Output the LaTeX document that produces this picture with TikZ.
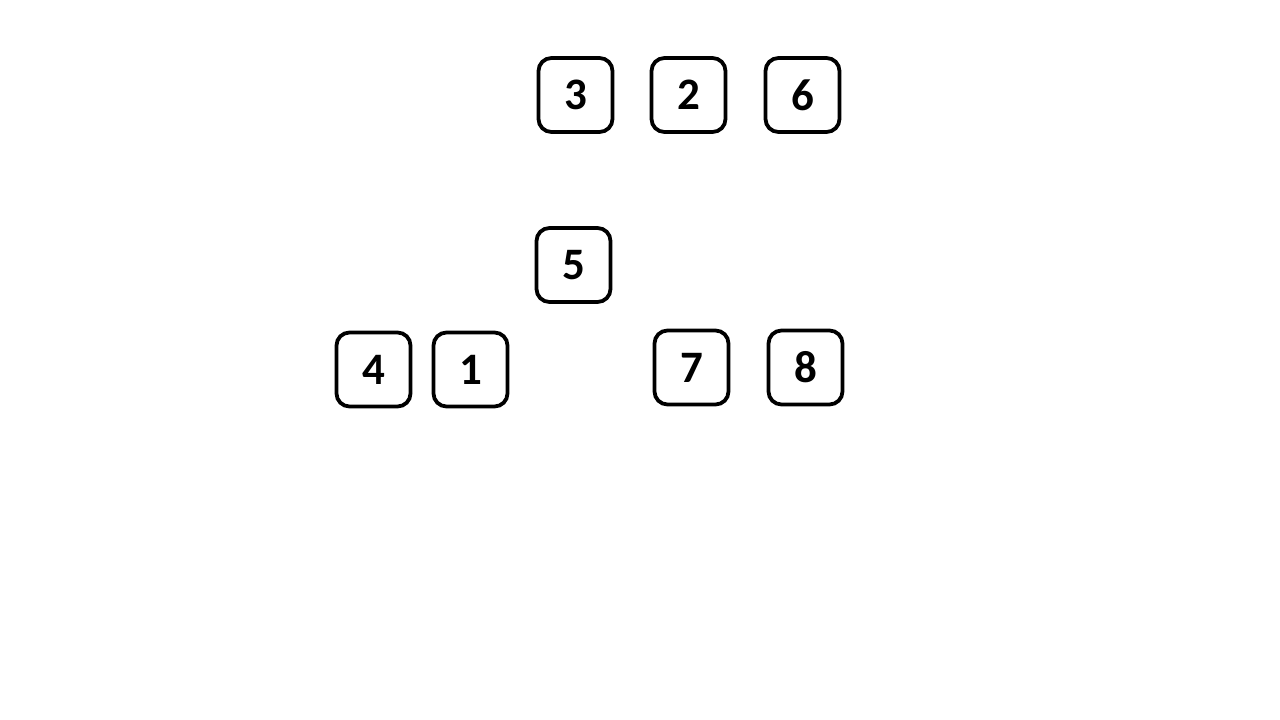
\documentclass[tikz,border=0pt]{standalone}
\usepackage{fontspec}
\setmainfont{Carlito}
\begin{document}
\begin{tikzpicture}[x=1pt,y=-1pt,
  numbox/.style={draw=black,line width=3.8pt,rounded corners=13pt,minimum width=74pt,minimum height=74pt,inner sep=0pt,font=\fontsize{45}{45}\selectfont\bfseries,text=black}]
\path[use as bounding box,fill=white] (0,0) rectangle (1280,720);
\node[numbox] (n3) at (575.5,95) {3};
\node[numbox] (n2) at (688.5,95) {2};
\node[numbox] (n6) at (802.5,95) {6};
\node[numbox] (n5) at (573.5,265) {5};
\node[numbox] (n4) at (373.5,369.5) {4};
\node[numbox] (n1) at (470.5,369.5) {1};
\node[numbox] (n7) at (691.5,367.5) {7};
\node[numbox] (n8) at (805.5,367.5) {8};
\end{tikzpicture}
\end{document}
